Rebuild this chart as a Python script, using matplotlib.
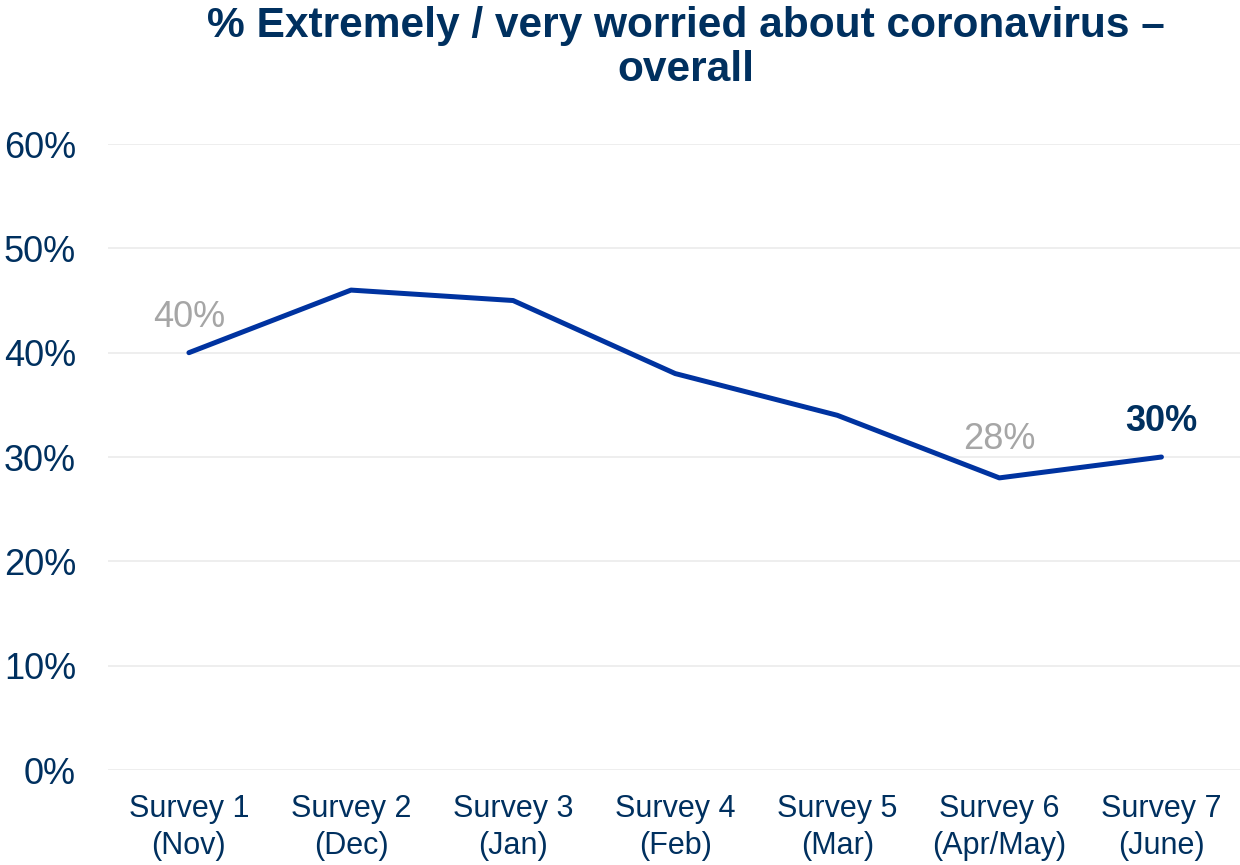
import matplotlib
matplotlib.use('Agg')
import matplotlib.pyplot as plt
import numpy as np

plt.rcParams['font.family'] = ['Liberation Sans', 'DejaVu Sans']

# data
surveys = ['Survey 1\n(Nov)', 'Survey 2\n(Dec)', 'Survey 3\n(Jan)', 'Survey 4\n(Feb)',
           'Survey 5\n(Mar)', 'Survey 6\n(Apr/May)', 'Survey 7\n(June)']
worried = [40, 46, 45, 38, 34, 28, 30]
yticks = [0, 10, 20, 30, 40, 50, 60]

navy = '#00305F'
line_col = '#0033A0'
grey = '#A6A6A6'

fig = plt.figure(figsize=(12.4, 8.65), dpi=100)
ax = fig.add_axes([0.087, 0.1098, 0.915, 0.7237])

x = np.arange(len(surveys))
ax.plot(x, worried, color=line_col, lw=3.6, solid_capstyle='round', zorder=3)

ax.set_xlim(-0.5, 6.5)
ax.set_ylim(0, 60)
ax.set_yticks(yticks)
ax.set_yticklabels([f'{v}%' for v in yticks], fontsize=26, color=navy)
ax.set_xticks(x)
ax.set_xticklabels(surveys, fontsize=22, color=navy, linespacing=1.3)
ax.tick_params(axis='y', length=0, pad=23)
ax.tick_params(axis='x', length=0, pad=17)
ax.grid(axis='y', color='#EBEBEB', lw=1.2)
ax.set_axisbelow(True)
for s in ax.spines.values():
    s.set_visible(False)

# data labels
ax.text(x[0], worried[0] + 1.7, f'{worried[0]}%', ha='center', va='bottom',
        fontsize=26, color=grey)
ax.text(x[5], worried[5] + 2.0, f'{worried[5]}%', ha='center', va='bottom',
        fontsize=26, color=grey)
ax.text(x[6], worried[6] + 1.7, f'{worried[6]}%', ha='center', va='bottom',
        fontsize=26, color=navy, fontweight='bold')

fig.text(0.553, 0.993, '% Extremely / very worried about coronavirus \u2013\noverall',
         ha='center', va='top', fontsize=30.6, fontweight='bold', color=navy,
         linespacing=1.12)

fig.savefig('out.png', dpi=100)
